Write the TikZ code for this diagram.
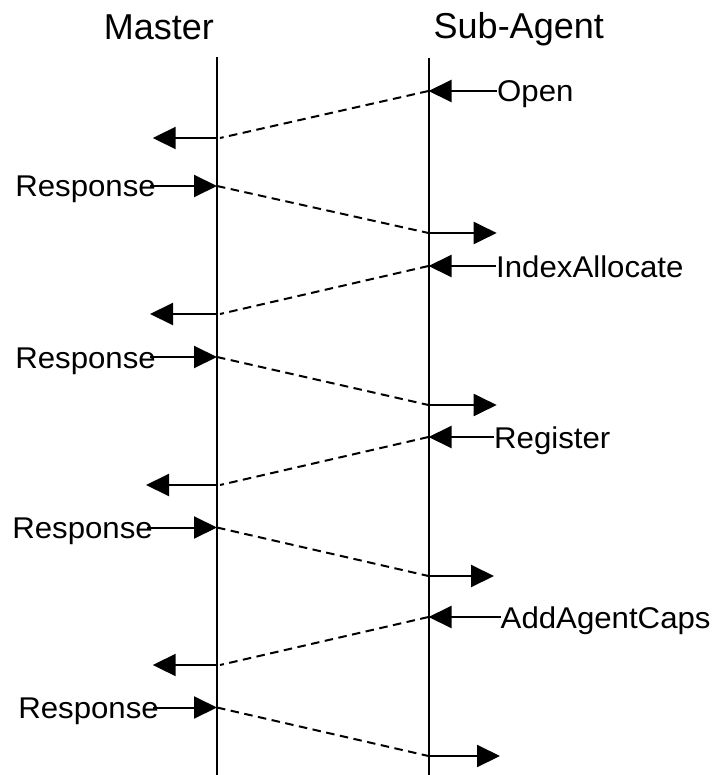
\documentclass[tikz,border=0pt]{standalone}
\usepackage{fontspec}
\setmainfont{Liberation Sans}
\newfontfamily\lblfont[FakeStretch=1.04]{Liberation Sans}
\usetikzlibrary{arrows.meta,calc}
\begin{document}
\begin{tikzpicture}[x=1pt,y=-1pt,
  life/.style={line width=2pt},
  arr/.style={line width=2pt,-{Triangle[length=23pt,width=22pt]}},
  msg/.style={line width=2pt,dash pattern=on 8.5pt off 5.5pt},
  title/.style={inner sep=0pt,font=\fontsize{36}{40}\selectfont},
  lbl/.style={inner sep=0pt,font=\lblfont\fontsize{30}{34}\selectfont}]
\useasboundingbox (0,0) rectangle (722,775);
% titles
\node[title,anchor=base east] (master) at (214,39.3) {Master};
\node[title,anchor=base west] (sub) at (433.5,39) {Sub-Agent};
% lifelines
\coordinate (mtop) at (217,57);
\coordinate (mbot) at (217,775);
\coordinate (stop) at (428.5,58);
\coordinate (sbot) at (428.5,775);
\draw[life] (mtop) -- (mbot);
\draw[life] (stop) -- (sbot);
% blocks: in, L, R, out, left tip, right tip, label x, label text, resp end
\foreach \i/\yin/\yl/\yr/\yout/\lt/\rt/\lx/\txt/\re in {
  1/91/138/186/233/152.7/496.7/497/Open/156,
  2/266/314/357/405/150/496.7/496/IndexAllocate/156,
  3/437/485/527.5/576/146/494/494/Register/153,
  4/617/665/707.5/756/152.7/500/500.5/AddAgentCaps/159}{
  \coordinate (s\i) at (428.5,\yin);
  \coordinate (ml\i) at (217,\yl);
  \coordinate (mr\i) at (217,\yr);
  \coordinate (so\i) at (428.5,\yout);
  \coordinate (lt\i) at (\lt,\yl);
  \coordinate (rt\i) at (\rt,\yout);
  \node[lbl,anchor=base west] (in\i) at (\lx,\yin+11) {\txt};
  \node[lbl,anchor=base east] (resp\i) at (\re,\yr+11) {Response};
  \draw[arr] (in\i.west |- s\i) -- (s\i);
  \draw[msg] (s\i) -- ($(ml\i)+(3,0)$);
  \draw[arr] (ml\i) -- (lt\i);
  \draw[arr] ($(resp\i.east |- mr\i)+(-6,0)$) -- (mr\i);
  \draw[msg] (mr\i) -- (so\i);
  \draw[arr] (so\i) -- (rt\i);
}
\end{tikzpicture}
\end{document}
